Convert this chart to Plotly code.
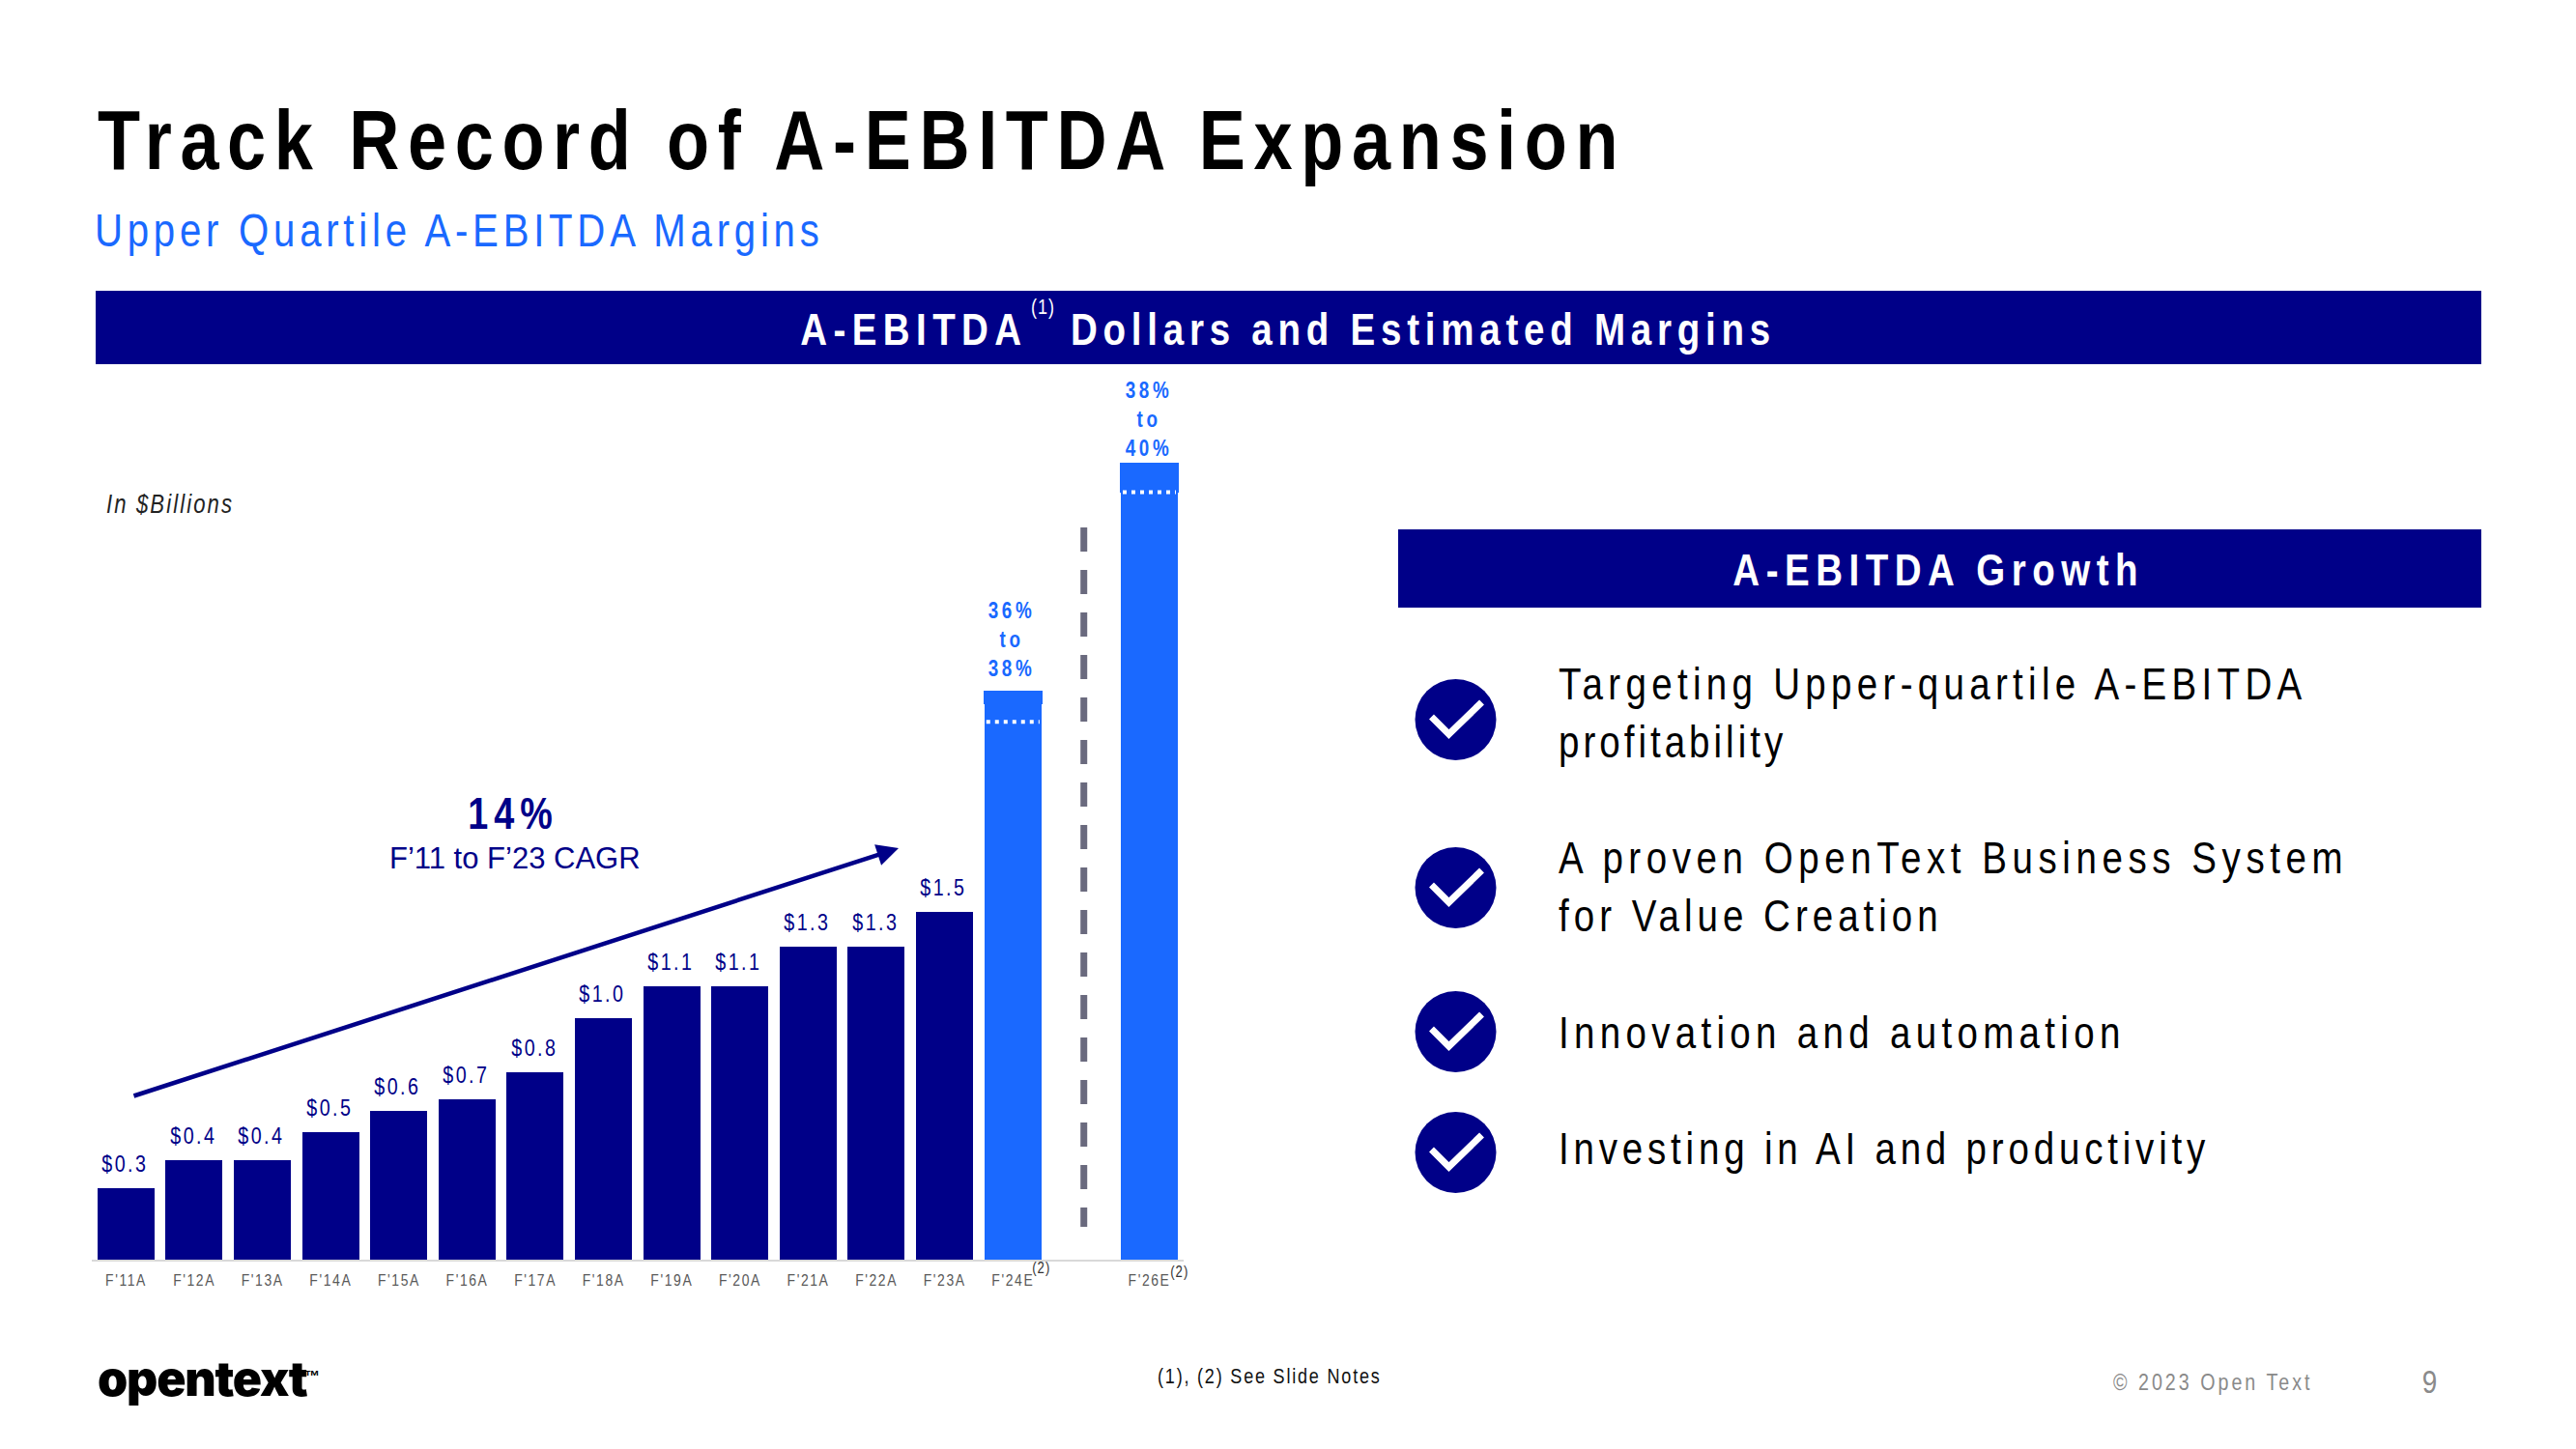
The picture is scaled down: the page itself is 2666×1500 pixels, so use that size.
import json
import plotly.graph_objects as go

W, H = 2666, 1500
NAVY = "#000088"
BLUE = "#1A69FF"
FONT = "Liberation Sans"
NARROW = 0.82

# ---- data ----
categories = ["F'11A","F'12A","F'13A","F'14A","F'15A","F'16A","F'17A","F'18A","F'19A","F'20A","F'21A","F'22A","F'23A","F'24E","","F'26E"]
actual_idx = list(range(13))
actual_values = [0.31,0.43,0.43,0.55,0.64,0.69,0.81,1.04,1.18,1.18,1.35,1.35,1.50]
actual_labels = ["$0.3","$0.4","$0.4","$0.5","$0.6","$0.7","$0.8","$1.0","$1.1","$1.1","$1.3","$1.3","$1.5"]
estimate_idx = [13, 15]
estimate_top = [2.454, 3.4375]
estimate_cap_base = [2.395, 3.31]
estimate_dotted = [2.32, 3.31]
estimate_labels = ["36%<br>to<br>38%", "38%<br>to<br>40%"]
bullet_lines = ["Targeting Upper-quartile A-EBITDA", "profitability",
                "A proven OpenText Business System", "for Value Creation",
                "Innovation and automation",
                "Investing in AI and productivity"]
bullet_baselines = [724, 784, 904, 964, 1085, 1205]
bullet_ls = [5.3, 4.0, 5.55, 5.0, 5.3, 4.8]
bullet_cy = [745, 919, 1068, 1193]

# ---- layout helpers ----
def px(x): return x / W
def py(y): return 1 - y / H

BASE_Y, TOP_Y = 1304, 379
PX_PER_UNIT = 240
XL, XR = 95.2, 1224.8

fig = go.Figure()
fig.add_trace(go.Bar(x=actual_idx, y=actual_values, width=0.836, marker=dict(color=NAVY, line_width=0), cliponaxis=False))
fig.add_trace(go.Bar(x=estimate_idx, y=estimate_top, width=0.836, marker=dict(color=BLUE, line_width=0), cliponaxis=False))
fig.add_trace(go.Bar(x=estimate_idx, y=[t-b for t,b in zip(estimate_top, estimate_cap_base)], base=estimate_cap_base,
                     width=0.864, marker=dict(color=BLUE, line_width=0), cliponaxis=False))
for i, v in zip(estimate_idx, estimate_dotted):
    fig.add_trace(go.Scatter(x=[i-0.39, i+0.39], y=[v, v], mode="lines", line=dict(color="white", width=4, dash="4px,5px"), cliponaxis=False))

shapes = []
def rect(x0,y0,x1,y1,color):
    shapes.append(dict(type="rect", xref="paper", yref="paper", x0=px(x0), x1=px(x1), y0=py(y0), y1=py(y1),
                       fillcolor=color, line_width=0, layer="below"))
rect(99,301,2568,377,NAVY)
rect(1447,548,2568,629,NAVY)
# dashed divider
shapes.append(dict(type="line", xref="x", yref="paper", x0=14.04, x1=14.04, y0=py(546), y1=py(1270),
                   line=dict(color="#6A6A7E", width=7, dash="25px,19px")))
for cy in bullet_cy:
    cx = 1506.5
    shapes.append(dict(type="circle", xref="paper", yref="paper", x0=px(cx-42), x1=px(cx+42), y0=py(cy-42), y1=py(cy+42),
                       fillcolor=NAVY, line_width=0))
    pts = [(cx-25,cy-3),(cx-7,cy+15),(cx+27,cy-18)]
    path = "M " + " L ".join(f"{px(a):.5f} {py(b):.5f}" for a,b in pts)
    shapes.append(dict(type="path", xref="paper", yref="paper", path=path, line=dict(color="white", width=7)))

ann = []
spacing = []   # letter spacing in final px
squeeze = []   # horizontal glyph scale
origin = []
def text(t, x, baseline, size, color="#000000", anchor="left", bold=False, italic=False, ls=0, family=FONT, weight=None, sx=NARROW):
    f = dict(family=family, size=size, color=color)
    if bold: f["weight"] = 700
    if weight: f["weight"] = weight
    if italic: f["style"] = "italic"
    ann.append(dict(text=t, xref="paper", yref="paper", x=px(x), y=py(baseline + 0.212*size + 2), xanchor=anchor, yanchor="bottom",
                    align=anchor, showarrow=False, font=f))
    spacing.append(ls); squeeze.append(sx); origin.append(anchor)

text("Track Record of A-EBITDA Expansion", 99, 175, 88, bold=True, ls=8.6)
text("Upper Quartile A-EBITDA Margins", 96, 255, 49, color=BLUE, ls=4.75)
text("A-EBITDA", 1066, 357, 47, color="white", anchor="right", bold=True, ls=6.4)
text("(1)", 1079, 325, 22, color="white", anchor="center", ls=1)
text("Dollars and Estimated Margins", 1106, 357, 47, color="white", bold=True, ls=5.75)
text("A-EBITDA Growth", 2006, 606, 47, color="white", anchor="center", bold=True, ls=6.5)
for t, b, l in zip(bullet_lines, bullet_baselines, bullet_ls):
    text(t, 1611, b, 47, ls=l)
text("In $Billions", 108, 531, 27, color="#222222", italic=True, ls=2.1)
text("14%", 531, 858, 46, color=NAVY, anchor="center", bold=True, ls=6)
text("F’11 to F’23 CAGR", 533, 899, 31, color=NAVY, anchor="center", sx=1)
text("(2)", 1078, 1318, 16, color="#333333", anchor="center", ls=1)
text("(2)", 1221, 1322, 16, color="#333333", anchor="center", ls=1)
text("(1), (2) See Slide Notes", 1196, 1432, 22, color="#111111", ls=1.8)
text("© 2023 Open Text", 2185, 1439, 24, color="#8A8A8A", ls=3)
text("9", 2514, 1442, 34, color="#8A8A8A", anchor="center")
text("opentext", 99, 1446.5, 50, family="Inter", weight=900, ls=-1.2, sx=1)
text("™", 323, 1430, 16, anchor="center", bold=True, sx=1)

# value labels tied to the data
for i, v, l in zip(actual_idx, actual_values, actual_labels):
    ann.append(dict(text=l, xref="x", yref="y", x=i, y=v, yanchor="bottom", showarrow=False, yshift=10, xshift=-1,
                    font=dict(family=FONT, size=24, color=NAVY)))
    spacing.append(2.5); squeeze.append(NARROW); origin.append("center")
for i, v, l, ys in zip(estimate_idx, estimate_top, estimate_labels, [8, 0]):
    ann.append(dict(text=l, xref="x", yref="y", x=i, y=v, yanchor="bottom", showarrow=False, yshift=ys, xshift=-1,
                    font=dict(family=FONT, size=23, color=BLUE, weight=700)))
    spacing.append(3.6); squeeze.append(NARROW); origin.append("center")
# CAGR arrow
ann.append(dict(text="", xref="paper", yref="paper", x=px(930), y=py(878), ax=137-930, ay=1135-878, axref="pixel", ayref="pixel",
                showarrow=True, arrowhead=2, arrowsize=1, arrowwidth=4.5, arrowcolor=NAVY))
spacing.append(0); squeeze.append(1); origin.append("center")

fig.update_layout(
    width=W, height=H, margin=dict(l=0,r=0,t=0,b=0), paper_bgcolor="white", plot_bgcolor="white",
    showlegend=False, barmode="overlay", bargap=0, shapes=shapes, annotations=ann,
    xaxis=dict(domain=[px(XL), px(XR)], range=[-0.5, 15.5], tickmode="array", tickvals=list(range(16)), ticktext=categories,
               showgrid=False, zeroline=False, showline=True, linecolor="#D9D9D9", linewidth=2, ticks="",
               ticklabelstandoff=5, tickfont=dict(family=FONT, size=17, color="#595959")),
    yaxis=dict(domain=[py(BASE_Y), py(TOP_Y)], range=[0, (BASE_Y-TOP_Y)/PX_PER_UNIT], visible=False),
)

post = """
document.body.style.margin='0';document.documentElement.style.overflow='hidden';
var sp=%s, sq=%s, og=%s;
function fit(t,ls,sx,o){
  t.style.letterSpacing=(ls/sx)+'px';
  t.style.transformBox='fill-box';t.style.transformOrigin=o+' center';t.style.transform='scaleX('+sx+')';
}
document.querySelectorAll('.annotation').forEach(function(g){
  var i=+g.getAttribute('data-index');var t=g.querySelector('text');
  if(t){fit(t,sp[i],sq[i],og[i]);}
});
var tsx=%s;
document.querySelectorAll('.xtick text').forEach(function(t){
  t.style.letterSpacing=(1.6/tsx)+'px';
  var x=parseFloat(t.getAttribute('x')||0), old=t.getAttribute('transform')||'';
  t.setAttribute('transform',old+' translate('+x+',0) scale('+tsx+',1) translate('+(-x)+',0)');
});
""" % (json.dumps(spacing), json.dumps(squeeze), json.dumps(origin), NARROW)
fig.write_html("out.html", post_script=post, config={"displayModeBar": False})
